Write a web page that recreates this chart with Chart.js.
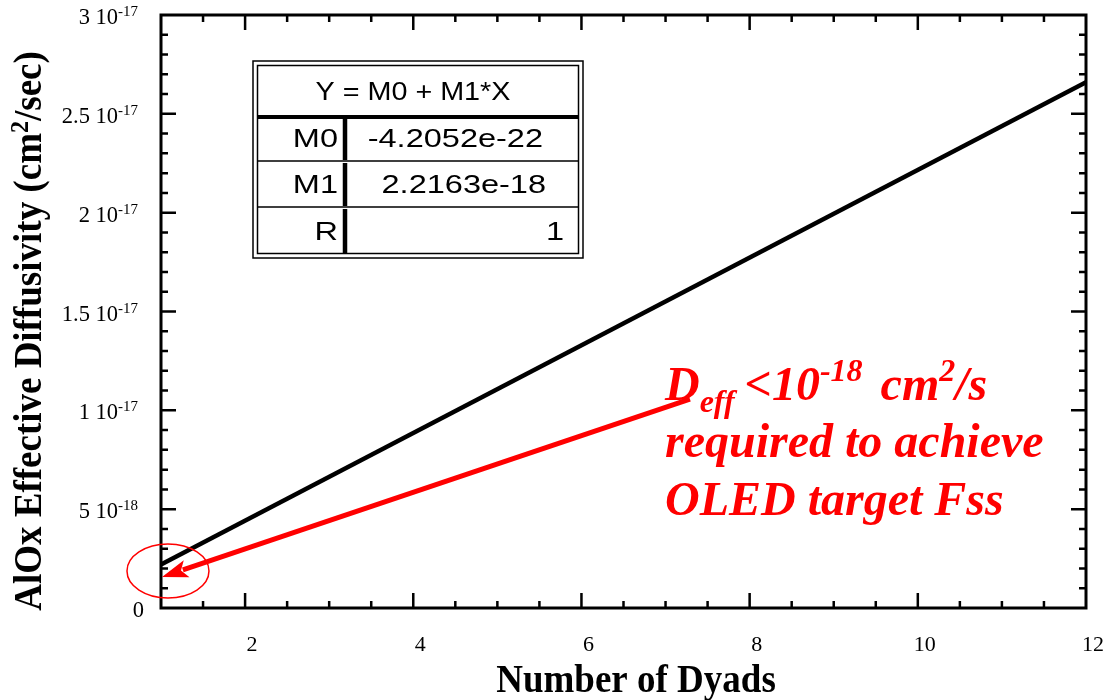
<!DOCTYPE html>
<html>
<head>
<meta charset="utf-8">
<title>AlOx effective diffusivity</title>
<script src="https://cdn.jsdelivr.net/npm/chart.js@4.4.1/dist/chart.umd.min.js"></script>
<style>
    html, body { margin: 0; padding: 0; background: #fff; }
    canvas { display: block; }
</style>
</head>
<body>
<canvas id="diffusivity" width="1103" height="700"></canvas>
<script>
// fitted line
const fitX = [1, 12];
const fitY = [2.2e-18, 2.66e-17];

// axis ticks and labels
const xMajor = [2, 4, 6, 8, 10, 12];
const xLabels = ['2', '4', '6', '8', '10', '12'];
const yMajor = [0, 5e-18, 1e-17, 1.5e-17, 2e-17, 2.5e-17, 3e-17];
const yLabelBase = ['0', '5 10', '1 10', '1.5 10', '2 10', '2.5 10', '3 10'];
const yLabelExp = ['', '-18', '-17', '-17', '-17', '-17', '-17'];

// fit table
const fitRows = ['M0', 'M1', 'R'];
const fitValues = ['-4.2052e-22', '2.2163e-18', '1'];

// red arrow and circle (data coords)
const arrowFrom = [7.29, 1.057e-17];
const arrowTo = [1.012, 1.57e-18];
const circleAt = [1.083, 1.87e-18];

const SERIF = '"Liberation Serif", "Times New Roman", serif';
const SANS = '"Liberation Sans", Arial, sans-serif';

// draws a list of text runs one after another, each with its own font and shift
function drawRuns(ctx, runs, x, y) {
    runs.forEach(function (r) {
        ctx.font = r.font;
        ctx.fillText(r.text, x, y + (r.dy || 0));
        x += ctx.measureText(r.text).width + (r.gap || 0);
    });
    return x;
}

function runsWidth(ctx, runs) {
    let w = 0;
    runs.forEach(function (r) {
        ctx.font = r.font;
        w += ctx.measureText(r.text).width + (r.gap || 0);
    });
    return w;
}

// the table font in the original is a wide sans, so stretch it sideways
function wideText(ctx, text, x, y, sx, align) {
    const w = ctx.measureText(text).width * sx;
    let left = x;
    if (align === 'right') left = x - w;
    if (align === 'center') left = x - w / 2;
    ctx.save();
    ctx.translate(left, y);
    ctx.scale(sx, 1);
    ctx.textAlign = 'left';
    ctx.fillText(text, 0, 0);
    ctx.restore();
}

const decorations = {
    id: 'decorations',
    afterDraw: function (chart) {
        const ctx = chart.ctx;
        const xs = chart.scales.x;
        const ys = chart.scales.y;
        const a = chart.chartArea;
        ctx.save();

        // frame
        ctx.strokeStyle = '#000';
        ctx.lineWidth = 3;
        ctx.strokeRect(a.left, a.top, a.right - a.left, a.bottom - a.top);

        // inward ticks on all four sides
        ctx.lineWidth = 2.5;
        ctx.beginPath();
        for (let v = 1.5; v < 12; v += 0.5) {
            const px = xs.getPixelForValue(v);
            const len = xMajor.indexOf(v) >= 0 ? 15 : 7;
            ctx.moveTo(px, a.bottom); ctx.lineTo(px, a.bottom - len);
            ctx.moveTo(px, a.top); ctx.lineTo(px, a.top + len);
        }
        for (let i = 1; i < 30; i++) {
            const py = ys.getPixelForValue(i * 1e-18);
            const len = i % 5 === 0 ? 15 : 7;
            ctx.moveTo(a.left, py); ctx.lineTo(a.left + len, py);
            ctx.moveTo(a.right, py); ctx.lineTo(a.right - len, py);
        }
        ctx.stroke();

        // tick labels
        ctx.fillStyle = '#000';
        ctx.textBaseline = 'alphabetic';
        ctx.textAlign = 'left';
        yMajor.forEach(function (v, i) {
            const py = ys.getPixelForValue(v);
            const runs = [{ text: yLabelBase[i], font: '22.5px ' + SERIF }];
            if (yLabelExp[i]) runs.push({ text: yLabelExp[i], font: '15px ' + SERIF, dy: -8 });
            const w = runsWidth(ctx, runs);
            drawRuns(ctx, runs, (i === 0 ? 144 : 138) - w, py + 9);
        });
        ctx.textAlign = 'center';
        ctx.font = '22px ' + SERIF;
        xMajor.forEach(function (v, i) {
            ctx.fillText(xLabels[i], xs.getPixelForValue(v) + 7, 651);
        });

        // axis titles
        ctx.font = 'bold 37px ' + SERIF;
        ctx.textBaseline = 'alphabetic';
        ctx.save();
        ctx.translate(636, 692);
        ctx.scale(1, 1.08);
        ctx.fillText('Number of Dyads', 0, 0);
        ctx.restore();
        ctx.save();
        ctx.translate(41, 331);
        ctx.rotate(-Math.PI / 2);
        ctx.scale(1, 1.08);
        ctx.textAlign = 'left';
        const titleRuns = [
            { text: 'AlOx Effective Diffusivity (cm', font: 'bold 37px ' + SERIF },
            { text: '2', font: 'bold 24px ' + SERIF, dy: -12 },
            { text: '/sec)', font: 'bold 37px ' + SERIF }
        ];
        drawRuns(ctx, titleRuns, -runsWidth(ctx, titleRuns) / 2, 0);
        ctx.restore();

        // red circle
        ctx.strokeStyle = '#f00';
        ctx.lineWidth = 1.5;
        ctx.beginPath();
        ctx.ellipse(xs.getPixelForValue(circleAt[0]), ys.getPixelForValue(circleAt[1]), 41, 27, 0, 0, Math.PI * 2);
        ctx.stroke();

        // red arrow
        const x0 = xs.getPixelForValue(arrowFrom[0]), y0 = ys.getPixelForValue(arrowFrom[1]);
        const x1 = xs.getPixelForValue(arrowTo[0]), y1 = ys.getPixelForValue(arrowTo[1]);
        const ang = Math.atan2(y1 - y0, x1 - x0);
        const headLen = 26, headHalf = 9;
        const bx = x1 - headLen * Math.cos(ang), by = y1 - headLen * Math.sin(ang);
        ctx.lineWidth = 5;
        ctx.lineCap = 'butt';
        ctx.beginPath();
        ctx.moveTo(x0, y0);
        ctx.lineTo(bx + 4 * Math.cos(ang), by + 4 * Math.sin(ang));
        ctx.stroke();
        ctx.fillStyle = '#f00';
        ctx.beginPath();
        ctx.moveTo(x1, y1);
        ctx.lineTo(bx + headHalf * Math.sin(ang), by - headHalf * Math.cos(ang));
        ctx.lineTo(bx + 6 * Math.cos(ang), by + 6 * Math.sin(ang));
        ctx.lineTo(bx - headHalf * Math.sin(ang), by + headHalf * Math.cos(ang));
        ctx.closePath();
        ctx.fill();

        // red annotation
        ctx.textAlign = 'left';
        ctx.textBaseline = 'alphabetic';
        const big = 'italic bold 48px ' + SERIF;
        const small = 'italic bold 32px ' + SERIF;
        drawRuns(ctx, [
            { text: 'D', font: big },
            { text: 'eff', font: small, dy: 12, gap: 10 },
            { text: '<10', font: big },
            { text: '-18', font: small, dy: -19, gap: 18 },
            { text: 'cm', font: big },
            { text: '2', font: small, dy: -19 },
            { text: '/s', font: big }
        ], 665, 400);
        ctx.font = big;
        ctx.fillText('required to achieve', 665, 457);
        ctx.fillText('OLED target Fss', 665, 515);

        // fit table
        const tL = 253, tT = 61, tR = 583, tB = 258;
        ctx.fillStyle = '#fff';
        ctx.fillRect(tL, tT, tR - tL, tB - tT);
        ctx.strokeStyle = '#000';
        ctx.lineWidth = 1.5;
        ctx.strokeRect(tL, tT, tR - tL, tB - tT);
        ctx.strokeRect(tL + 4.5, tT + 4.5, tR - tL - 9, tB - tT - 9);
        ctx.lineWidth = 4;
        ctx.beginPath();
        ctx.moveTo(tL + 4.5, 117); ctx.lineTo(tR - 4.5, 117);
        ctx.stroke();
        ctx.lineWidth = 1.5;
        ctx.beginPath();
        ctx.moveTo(tL + 4.5, 161); ctx.lineTo(tR - 4.5, 161);
        ctx.moveTo(tL + 4.5, 207); ctx.lineTo(tR - 4.5, 207);
        ctx.stroke();
        ctx.lineWidth = 4.5;
        ctx.beginPath();
        ctx.moveTo(345, 119); ctx.lineTo(345, 160);
        ctx.moveTo(345, 163); ctx.lineTo(345, 206);
        ctx.moveTo(345, 209); ctx.lineTo(345, tB - 4.5);
        ctx.stroke();

        ctx.fillStyle = '#000';
        ctx.font = '25px ' + SANS;
        ctx.textBaseline = 'alphabetic';
        wideText(ctx, 'Y = M0 + M1*X', 413, 100, 1.15, 'center');
        const rowY = [147, 193, 240];
        const valueRight = [543, 546, 564];
        fitRows.forEach(function (name, i) {
            wideText(ctx, name, 338, rowY[i], 1.3, 'right');
            wideText(ctx, fitValues[i], valueRight[i], rowY[i], 1.3, 'right');
        });

        ctx.restore();
    }
};

new Chart(document.getElementById('diffusivity'), {
    type: 'scatter',
    data: {
        datasets: [{
            data: fitX.map(function (x, i) { return { x: x, y: fitY[i] }; }),
            showLine: true,
            borderColor: '#000',
            borderWidth: 4.5,
            pointRadius: 0
        }]
    },
    options: {
        responsive: false,
        animation: false,
        layout: { padding: { left: 161, top: 15, right: 17, bottom: 92 } },
        plugins: { legend: { display: false }, tooltip: { enabled: false } },
        scales: {
            x: { type: 'linear', min: 1, max: 12, display: false },
            y: { type: 'linear', min: 0, max: 3e-17, display: false }
        }
    },
    plugins: [decorations]
});
</script>
</body>
</html>
